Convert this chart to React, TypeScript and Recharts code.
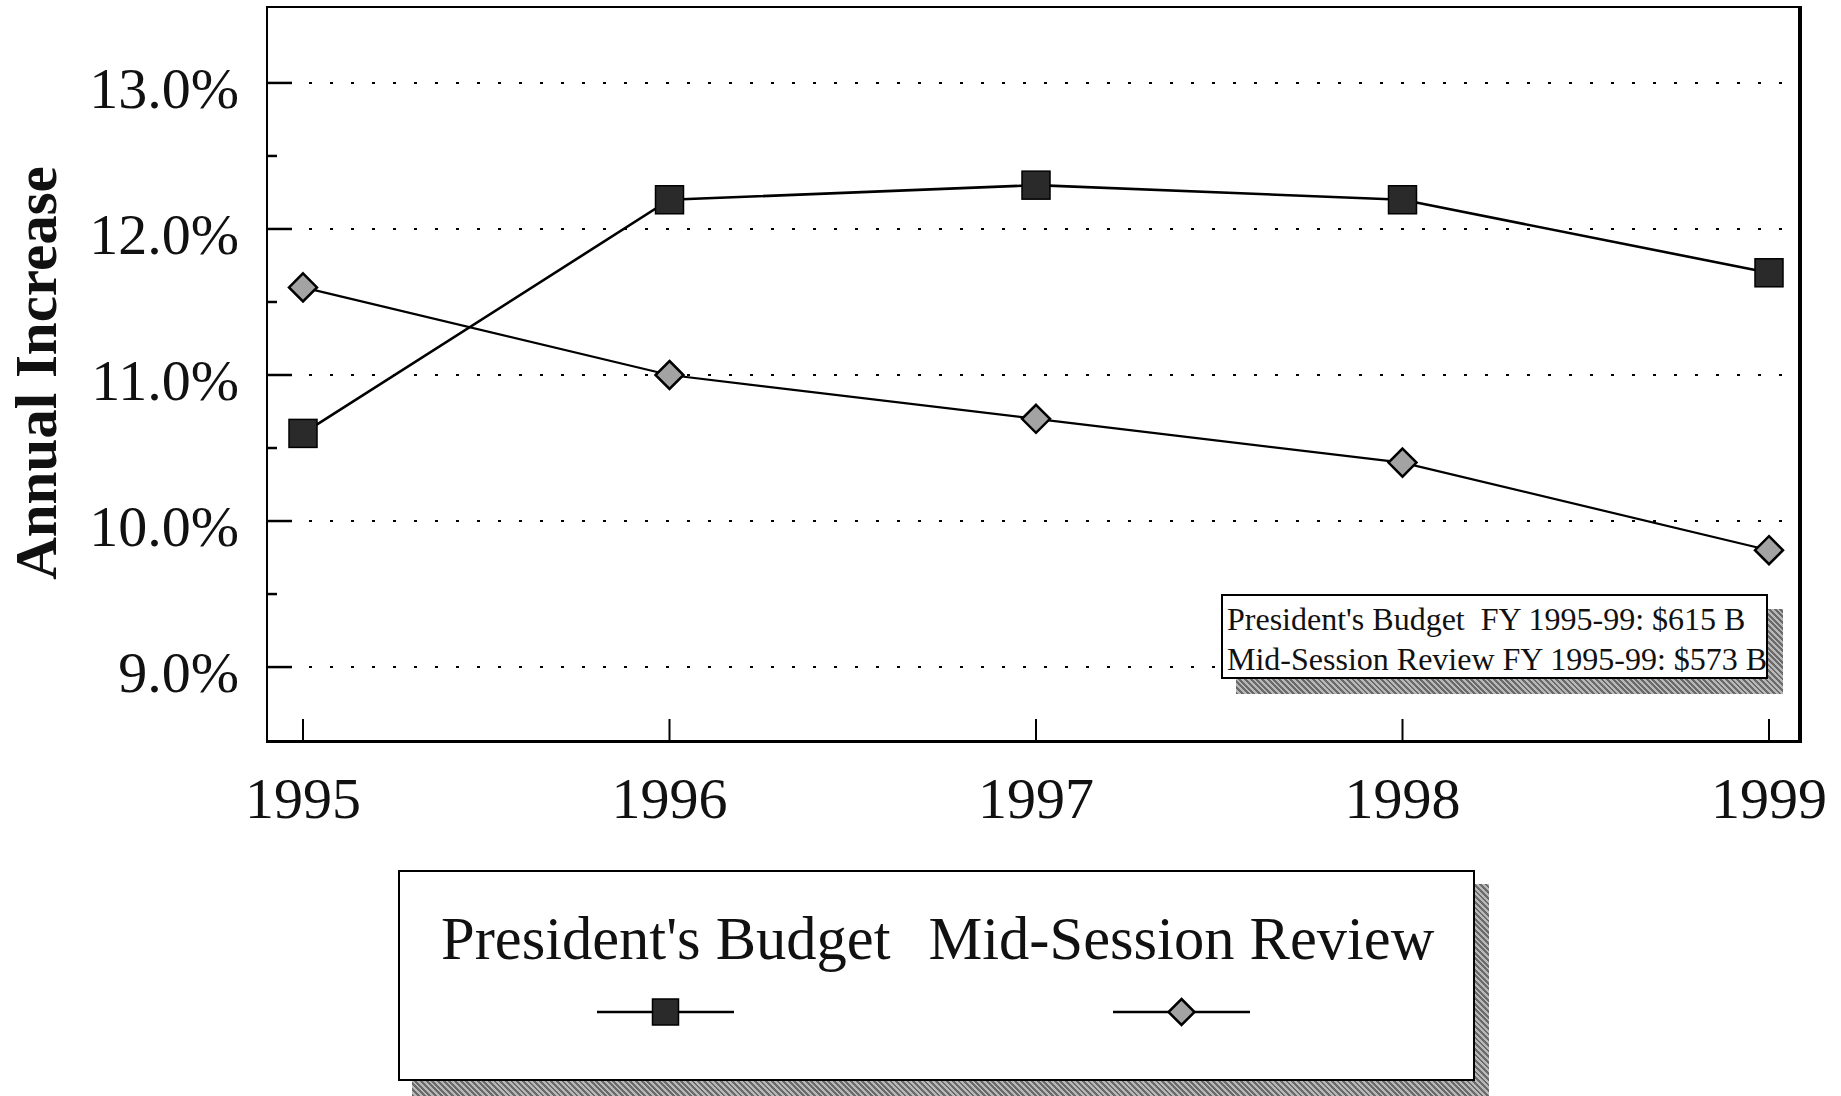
import { LineChart, Line, XAxis, YAxis, ReferenceLine, Label } from "recharts";

const YEARS = ["1995", "1996", "1997", "1998", "1999"];
const PRESIDENTS_BUDGET = [10.6, 12.2, 12.3, 12.2, 11.7];
const MID_SESSION_REVIEW = [11.6, 11.0, 10.7, 10.4, 9.8];
const Y_TICKS = [9, 9.5, 10, 10.5, 11, 11.5, 12, 12.5, 13];
const GRID_VALUES = [9, 10, 11, 12, 13];
const TOTAL_LINES = [
  "President's Budget  FY 1995-99: $615 B",
  "Mid-Session Review FY 1995-99: $573 B",
];
const SERIES = [
  { key: "pres", name: "President's Budget", marker: "square" },
  { key: "mid", name: "Mid-Session Review", marker: "diamond" },
];

const FONT = '"Liberation Serif", "Times New Roman", serif';
const HATCH = "repeating-linear-gradient(45deg, #6a6a6a 0px, #6a6a6a 2px, #b8b8b8 2px, #b8b8b8 4px)";

const data = YEARS.map((year, i) => ({
  year,
  pres: PRESIDENTS_BUDGET[i],
  mid: MID_SESSION_REVIEW[i],
}));

function Square({ cx, cy, size = 28 }: any) {
  return (
    <rect
      x={cx - size / 2}
      y={cy - size / 2}
      width={size}
      height={size}
      fill="#2a2a2a"
      stroke="#000"
      strokeWidth={1.5}
    />
  );
}

function Diamond({ cx, cy, r = 14 }: any) {
  return (
    <polygon
      points={`${cx},${cy - r} ${cx + r},${cy} ${cx},${cy + r} ${cx - r},${cy}`}
      fill="#a3a3a3"
      stroke="#000"
      strokeWidth={2.5}
    />
  );
}

function YTick({ x, y, payload }: any) {
  const v = payload.value;
  const major = Number.isInteger(v);
  return (
    <g>
      <line x1={x} x2={x + (major ? 25 : 10)} y1={y} y2={y} stroke="#000" strokeWidth={2.5} />
      {major && (
        <text x={x - 28} y={y + 25} textAnchor="end" fontSize={58} fontFamily={FONT} fill="#111">
          {v.toFixed(1)}%
        </text>
      )}
    </g>
  );
}

function XTick({ x, y, payload }: any) {
  return (
    <g>
      <line x1={x} x2={x} y1={y} y2={y - 24} stroke="#000" strokeWidth={2} />
      <text x={x} y={y + 75} textAnchor="middle" fontSize={58} fontFamily={FONT} fill="#111">
        {payload.value}
      </text>
    </g>
  );
}

function AxisTitle() {
  return (
    <text
      x={56}
      y={373}
      transform="rotate(-90, 56, 373)"
      textAnchor="middle"
      fontSize={59}
      fontWeight="bold"
      fontFamily={FONT}
      fill="#111"
    >
      Annual Increase
    </text>
  );
}

function LegendMarker({ marker }: { marker: string }) {
  return (
    <svg width={137} height={30} style={{ display: "block", margin: "0 auto" }}>
      <line x1={0} x2={137} y1={15} y2={15} stroke="#000" strokeWidth={2.5} />
      {marker === "square" ? <Square cx={68.5} cy={15} size={26} /> : <Diamond cx={68.5} cy={15} r={13} />}
    </svg>
  );
}

export default function App() {
  return (
    <div
      style={{
        position: "absolute",
        left: 0,
        top: 0,
        width: 1841,
        height: 1096,
        background: "#fff",
        overflow: "hidden",
        fontFamily: FONT,
      }}
    >
      <LineChart
        width={1841}
        height={1096}
        data={data}
        margin={{ top: 7, right: 39, bottom: 273, left: 0 }}
      >
        <XAxis
          dataKey="year"
          height={80}
          padding={{ left: 36, right: 33 }}
          tickSize={0}
          tickMargin={0}
          axisLine={false}
          tick={<XTick />}
          interval={0}
        />
        <YAxis
          width={267}
          domain={[8.48, 13.52]}
          ticks={Y_TICKS}
          allowDataOverflow
          tickSize={0}
          tickMargin={0}
          axisLine={false}
          tick={<YTick />}
          interval={0}
        >
          <Label content={<AxisTitle />} />
        </YAxis>
        {GRID_VALUES.map((v) => (
          <ReferenceLine key={v} y={v} stroke="#000" strokeWidth={2} strokeDasharray="3 18" />
        ))}
        <Line
          dataKey="mid"
          stroke="#000"
          strokeWidth={2.2}
          isAnimationActive={false}
          dot={(p: any) => <Diamond key={`m${p.index}`} cx={p.cx} cy={p.cy} />}
          activeDot={false}
        />
        <Line
          dataKey="pres"
          stroke="#000"
          strokeWidth={2.6}
          isAnimationActive={false}
          dot={(p: any) => <Square key={`p${p.index}`} cx={p.cx} cy={p.cy} />}
          activeDot={false}
        />
      </LineChart>

      {/* plot frame */}
      <div
        style={{
          position: "absolute",
          left: 266,
          top: 6,
          width: 1536,
          height: 737,
          borderTop: "2.5px solid #000",
          borderLeft: "2.5px solid #000",
          borderBottom: "3px solid #000",
          borderRight: "4px solid #000",
          boxSizing: "border-box",
          pointerEvents: "none",
        }}
      />

      {/* totals box */}
      <div style={{ position: "absolute", left: 1236, top: 609, width: 547, height: 85, background: HATCH }} />
      <div
        style={{
          position: "absolute",
          left: 1221,
          top: 594,
          width: 547,
          height: 85,
          boxSizing: "border-box",
          border: "2px solid #000",
          background: "#fff",
          paddingTop: 3,
          paddingLeft: 4,
          fontSize: 32,
          lineHeight: "40px",
          color: "#111",
          whiteSpace: "pre",
        }}
      >
        {TOTAL_LINES.map((t) => (
          <div key={t}>{t}</div>
        ))}
      </div>

      {/* series legend */}
      <div style={{ position: "absolute", left: 412, top: 884, width: 1077, height: 212, background: HATCH }} />
      <div
        style={{
          position: "absolute",
          left: 398,
          top: 870,
          width: 1077,
          height: 211,
          boxSizing: "border-box",
          border: "2px solid #000",
          background: "#fff",
          paddingTop: 34,
          paddingLeft: 41,
          display: "flex",
          gap: 38,
          color: "#111",
        }}
      >
        {SERIES.map((s) => (
          <div key={s.key} style={{ textAlign: "center" }}>
            <div style={{ fontSize: 60.5, lineHeight: "66px", whiteSpace: "nowrap" }}>{s.name}</div>
            <div style={{ marginTop: 25 }}>
              <LegendMarker marker={s.marker} />
            </div>
          </div>
        ))}
      </div>
    </div>
  );
}
